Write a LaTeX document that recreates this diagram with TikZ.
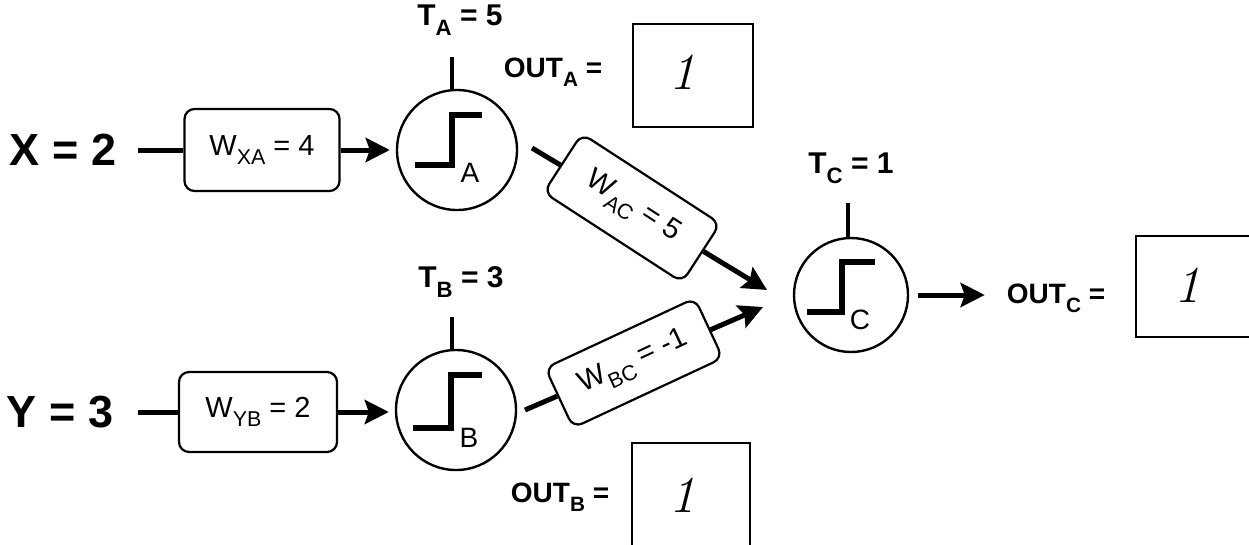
\documentclass[tikz,border=0pt]{standalone}
\usepackage{fontspec}
\usepackage{graphicx}
\usetikzlibrary{arrows.meta}
\newfontfamily\arial{Liberation Sans}
\newcommand\lsub[1]{\raisebox{-0.32em}{\scalebox{0.74}{#1}}}
\tikzset{
  neuron/.style={circle, draw, line width=2.4pt, minimum size=120pt, inner sep=0pt},
  wbox/.style={draw, rounded corners=10pt, line width=2.2pt, minimum width=155pt, minimum height=82pt, inner sep=0pt, font=\arial\fontsize{29}{32}\selectfont},
  outbox/.style={draw, line width=2pt, inner sep=0pt},
  conn/.style={line width=5pt},
  arr/.style={conn, -{Stealth[length=24pt,width=24pt,inset=4pt]}},
  stepline/.style={line width=6pt, line join=miter, line cap=butt},
  thr/.style={line width=3.6pt},
  big/.style={font=\arial\bfseries\fontsize{45}{50}\selectfont, inner sep=0pt},
  tlbl/.style={font=\arial\bfseries\fontsize{30}{34}\selectfont, inner sep=0pt},
  olbl/.style={font=\arial\bfseries\fontsize{28}{32}\selectfont, inner sep=0pt},
  nlbl/.style={font=\arial\fontsize{28}{32}\selectfont, inner sep=0pt},
  one/.style={font=\itshape\fontsize{52}{56}\selectfont, inner sep=0pt},
}
\begin{document}
\begin{tikzpicture}[x=1pt,y=-1pt]
\clip (0,0) rectangle (1249,544);
\useasboundingbox (0,0) rectangle (1249,544);

% inputs
\node[big] (X) at (63,150) {X = 2};
\node[big] (Y) at (60,412) {Y = 3};
\coordinate (xs) at (138,150);
\coordinate (ys) at (138,412);

% weight boxes
\node[wbox] (WXA) at (262,150) {W\lsub{XA} = 4};
\node[wbox, minimum width=158pt, minimum height=80pt] (WYB) at (258,412) {W\lsub{YB} = 2};

% neurons
\node[neuron] (A) at (457,150) {};
\node[neuron] (B) at (456,410) {};
\node[neuron, minimum size=114pt] (C) at (851,295) {};

% step symbols
\draw[stepline] ([shift={(-42,15)}]A.center) -- ++(37,0) -- ++(0,-50) -- ++(30,0);
\draw[stepline] ([shift={(-43,18)}]B.center) -- ++(38,0) -- ++(0,-53) -- ++(31,0);
\draw[stepline] ([shift={(-44,17)}]C.center) -- ++(35,0) -- ++(0,-50) -- ++(33,0);
\node[nlbl] (la) at ([shift={(13,23)}]A.center) {A};
\node[nlbl] (lb) at ([shift={(13,28)}]B.center) {B};
\node[nlbl] (lc) at ([shift={(9,25)}]C.center) {C};

% thresholds
\node[tlbl] (TA) at (460,20) {T\lsub{A} = 5};
\node[tlbl] (TB) at (461,282) {T\lsub{B} = 3};
\node[tlbl] (TC) at (851,168) {T\lsub{C} = 1};
\coordinate (ta) at (452,57);
\coordinate (tb) at (452,317);
\coordinate (tc) at (848,203);
\draw[thr] (ta) -- (ta |- A.north);
\draw[thr] (tb) -- (tb |- B.north);
\draw[thr] (tc) -- (tc |- C.north);

% input connectors
\draw[conn] (xs) -- (WXA);
\draw[conn] (ys) -- (WYB);
\draw[arr, shorten >=6pt] (WXA) -- (A);
\draw[arr, shorten >=6pt] (WYB.east) -- (WYB.east -| B.west);

% A -> C
\coordinate (acS) at (532,148);
\coordinate (acE) at (767,290);
\node[wbox, rotate=-33, minimum width=165pt, minimum height=70pt] (WAC) at (632,208) {W\lsub{AC} = 5};
\draw[conn] (acS) -- (WAC);
\draw[arr] (WAC) -- (acE);

% B -> C
\coordinate (bcS) at (525,410);
\coordinate (bcE) at (763,307);
\node[wbox, rotate=25, minimum width=165pt, minimum height=66pt] (WBC) at (634,363) {W\lsub{BC} = -1};
\draw[conn] (bcS) -- (WBC);
\draw[arr] (WBC) -- (bcE);

% outputs
\node[olbl] (OA) at (553,72) {OUT\lsub{A} =};
\node[outbox, minimum width=120pt, minimum height=103pt] (BA) at (693,75.5) {};
\node[one] (oneA) at (682,72) {1};

\node[olbl] (OB) at (560,497) {OUT\lsub{B} =};
\node[outbox, minimum width=118pt, minimum height=117pt] (BB) at (691,501.5) {};
\node[one] (oneB) at (682,495) {1};

\node[olbl] (OC) at (1056,298) {OUT\lsub{C} =};
\node[outbox, minimum width=122pt, minimum height=101pt] (BC) at (1197,286.5) {};
\node[one] (oneC) at (1187,285) {1};

\draw[arr, shorten <=9pt, shorten >=22pt] (C.east) -- (C.east -| OC.west);
\end{tikzpicture}
\end{document}
